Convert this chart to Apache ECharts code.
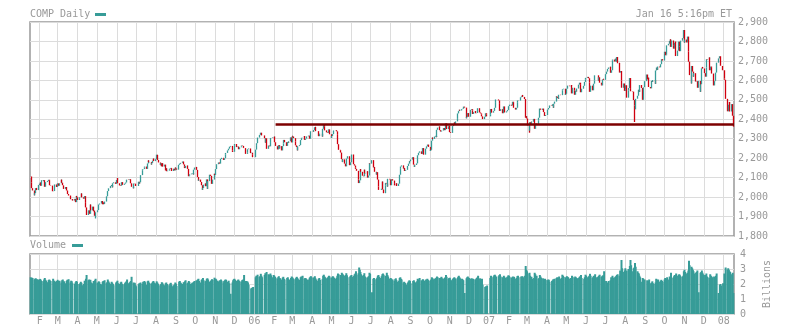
<!DOCTYPE html>
<html><head><meta charset="utf-8">
<script src="https://cdn.jsdelivr.net/npm/echarts@6/dist/echarts.min.js"></script>
<style>html,body{margin:0;padding:0;background:#fff}#c{width:793px;height:329px}</style>
</head><body><div id="c"></div>
<script>
// ---------- DATA (daily closes, grouped by month) ----------
const closes2005 = [
 [2106,2074,2046,2034,2009,2020,2046,2047,2036,2062],
 [2069,2075,2058,2087,2082,2087,2053,2053,2077,2083,2089,2087,2061,2059,2030,2031,2052,2065,2052],
 [2071,2068,2058,2071,2090,2074,2061,2060,2042,2052,2034,2016,2016,2008,2008,1989,1990,1982,1991,1974,2006,1999],
 [1985,1991,1999,1999,2019,1999,1992,2005,1974,1947,1908,1913,1932,1914,1962,1932,1951,1927,1930,1904,1922],
 [1929,1933,1962,1962,1967,1980,1963,1972,1964,1977,1995,2004,2031,2043,2046,2057,2062,2050,2071,2076,2068],
 [2088,2098,2071,2060,2057,2060,2077,2063,2069,2069,2075,2089,2090,2088,2091,2092,2071,2053,2045,2070,2069,2057],
 [2057,2079,2069,2076,2113,2135,2143,2144,2153,2157,2145,2173,2189,2179,2180,2167,2175,2187,2198,2185],
 [2195,2218,2217,2191,2178,2164,2174,2158,2174,2157,2167,2137,2148,2133,2136,2141,2146,2150,2149,2134,2146,2137,2152],
 [2147,2141,2166,2172,2171,2176,2183,2168,2156,2149,2160,2162,2145,2107,2110,2117,2121,2123,2116,2141,2152],
 [2155,2140,2103,2084,2090,2078,2061,2037,2047,2064,2070,2056,2091,2042,2082,2115,2109,2103,2068,2090,2120],
 [2114,2144,2160,2169,2178,2172,2175,2196,2202,2200,2191,2200,2220,2227,2240,2249,2259,2263,2239,2232,2233],
 [2267,2273,2257,2260,2246,2246,2256,2260,2265,2263,2253,2252,2222,2222,2231,2246,2250,2226,2228,2218,2205]
];
const closes2006 = [
 [2244,2263,2277,2306,2319,2320,2331,2317,2317,2303,2280,2302,2248,2248,2265,2261,2283,2304,2307,2306],
 [2311,2282,2263,2259,2245,2267,2250,2262,2240,2262,2276,2294,2282,2263,2283,2279,2287,2307,2281],
 [2315,2311,2303,2286,2266,2257,2240,2262,2267,2293,2299,2305,2306,2314,2294,2300,2301,2312,2316,2300,2337,2340,2340],
 [2336,2345,2359,2361,2339,2339,2313,2320,2326,2311,2351,2371,2362,2343,2333,2330,2344,2348,2323],
 [2304,2314,2324,2342,2343,2344,2338,2320,2272,2243,2238,2229,2195,2180,2194,2172,2158,2169,2198,2210,2164,2179],
 [2219,2219,2169,2162,2151,2145,2135,2091,2072,2086,2144,2130,2110,2107,2141,2122,2121,2133,2100,2111,2174,2172],
 [2190,2153,2155,2130,2116,2128,2090,2054,2037,2037,2043,2080,2039,2020,2061,2073,2070,2054,2094,2091],
 [2061,2078,2092,2085,2072,2060,2060,2071,2057,2069,2115,2149,2157,2163,2147,2150,2134,2138,2140,2160,2172,2185,2184],
 [2193,2205,2167,2155,2165,2173,2215,2227,2228,2235,2235,2222,2252,2237,2218,2249,2261,2263,2270,2258],
 [2237,2243,2290,2306,2299,2311,2315,2308,2346,2357,2363,2344,2337,2340,2342,2355,2344,2350,2379,2350,2363,2367],
 [2334,2334,2330,2365,2375,2384,2376,2389,2406,2430,2442,2449,2445,2452,2454,2465,2460,2405,2412,2432,2432],
 [2413,2448,2452,2445,2427,2437,2442,2431,2432,2453,2457,2435,2430,2425,2415,2401,2413,2431,2425,2415]
];
const closes2007 = [
 [2423,2453,2434,2438,2443,2459,2484,2502,2497,2479,2443,2452,2431,2431,2466,2435,2435,2441,2448,2464],
 [2468,2475,2470,2471,2490,2488,2459,2450,2459,2488,2497,2496,2513,2518,2525,2515,2504,2408,2416],
 [2404,2368,2341,2385,2374,2388,2387,2402,2351,2371,2378,2372,2394,2408,2455,2451,2448,2455,2437,2417,2417,2422],
 [2422,2450,2458,2471,2469,2477,2459,2480,2491,2518,2516,2510,2505,2526,2524,2524,2547,2554,2557,2525],
 [2531,2557,2566,2573,2570,2571,2576,2533,2562,2547,2526,2547,2543,2558,2578,2588,2577,2539,2557,2572,2592,2605],
 [2613,2618,2611,2588,2541,2573,2572,2549,2583,2599,2626,2626,2626,2599,2616,2588,2577,2574,2605,2608,2603],
 [2632,2645,2659,2666,2670,2639,2652,2701,2707,2697,2712,2697,2720,2688,2690,2640,2648,2599,2562,2584,2546],
 [2553,2575,2511,2547,2561,2612,2556,2544,2542,2499,2470,2451,2505,2508,2521,2552,2541,2576,2561,2500,2563,2565,2596],
 [2630,2605,2614,2566,2559,2597,2592,2602,2602,2582,2651,2666,2654,2671,2667,2683,2699,2709,2702],
 [2740,2747,2729,2733,2780,2788,2803,2811,2772,2805,2781,2763,2793,2799,2725,2753,2799,2774,2750,2804,2817,2816,2859],
 [2794,2810,2795,2825,2748,2696,2627,2584,2674,2645,2619,2637,2594,2596,2562,2597,2541,2580,2662,2669,2661],
 [2637,2619,2666,2709,2707,2718,2652,2671,2668,2635,2574,2596,2601,2640,2691,2713,2724,2676,2674,2652]
];
const closes2008 = [
 [2610,2603,2505,2499,2441,2475,2489,2440,2478,2418,2395]
];
// intraday extremes that stick out of the close-to-close bars
const lowSpikes = {'2005-04-29':1890,'2007-03-05':2331,'2007-08-16':2386,'2008-01-16':2362};

// ---------- DATA (daily volume, billions, grouped by month) ----------
const vol2005 = [
 [2.45,2.38,2.42,2.40,2.30,2.35,2.38,2.28,2.32,2.30],
 [2.22,2.34,2.25,2.20,2.18,2.30,2.40,2.28,2.22,2.12,2.26,2.30,2.24,2.20,2.35,2.18,2.22,2.15,2.20],
 [2.28,2.20,2.18,2.22,2.10,2.25,2.30,2.15,2.18,2.05,2.20,2.28,2.15,2.32,2.10,2.22,2.18,2.05,2.02,2.12,2.20,2.15],
 [2.00,1.98,2.05,2.15,2.08,1.92,2.00,2.22,2.15,2.35,2.60,2.25,2.30,2.18,2.28,2.10,2.05,2.20,2.15,2.25,2.35],
 [2.10,2.05,2.18,2.12,2.00,1.98,2.15,2.20,2.08,2.25,2.05,2.12,2.30,2.18,2.10,2.02,2.15,2.08,2.00,1.92,2.10],
 [2.15,2.22,2.05,2.00,2.10,2.15,2.02,1.95,2.00,2.08,2.12,2.18,2.30,2.05,2.10,2.15,2.20,2.48,2.10,2.05,2.08,1.95],
 [1.85,1.98,2.05,2.02,2.10,2.00,2.15,2.08,2.20,2.12,1.95,2.18,2.22,2.10,2.05,2.00,2.08,2.15,2.20,2.10],
 [2.05,2.18,2.10,2.02,1.90,1.95,2.00,2.12,2.08,1.98,1.92,2.05,2.10,2.00,1.95,1.90,2.02,2.08,1.95,1.85,1.92,1.98,2.10],
 [2.02,1.88,2.15,2.20,2.10,2.05,2.00,2.12,2.08,2.18,2.25,2.05,2.10,2.20,2.12,2.00,2.05,2.10,2.08,2.15,2.20],
 [2.25,2.18,2.30,2.35,2.20,2.10,2.28,2.32,2.40,2.25,2.18,2.22,2.35,2.38,2.30,2.15,2.20,2.25,2.32,2.28,2.42],
 [2.30,2.35,2.28,2.20,2.18,2.25,2.15,2.30,2.22,2.10,2.20,2.25,2.30,2.28,2.15,2.22,2.05,1.35,2.10,2.25,2.32],
 [2.35,2.28,2.20,2.25,2.30,2.22,2.18,2.15,2.25,2.28,2.30,2.60,2.20,2.15,2.18,2.10,1.95,1.70,1.75,1.68,1.80]
];
const vol2006 = [
 [2.45,2.55,2.50,2.62,2.48,2.52,2.68,2.55,2.45,2.60,2.72,2.58,2.80,2.65,2.55,2.62,2.70,2.58,2.45,2.60],
 [2.55,2.48,2.42,2.35,2.45,2.52,2.40,2.38,2.30,2.42,2.48,2.35,2.30,2.40,2.45,2.32,2.28,2.40,2.50],
 [2.45,2.38,2.30,2.35,2.42,2.48,2.40,2.32,2.28,2.45,2.50,2.42,2.55,2.35,2.40,2.38,2.32,2.28,2.30,2.42,2.48,2.52,2.45],
 [2.40,2.45,2.52,2.38,2.30,2.22,2.35,2.40,2.28,2.32,2.55,2.62,2.50,2.45,2.38,2.42,2.48,2.55,2.50],
 [2.40,2.45,2.52,2.48,2.40,2.35,2.42,2.55,2.70,2.65,2.60,2.58,2.75,2.68,2.62,2.55,2.60,2.72,2.58,2.45,2.50,2.55],
 [2.60,2.48,2.55,2.65,2.70,2.85,2.62,2.72,3.10,2.95,2.80,2.65,2.55,2.60,2.72,2.50,2.45,2.40,2.48,2.52,2.75,2.68],
 [1.45,2.35,2.40,2.30,2.35,2.42,2.55,2.60,2.48,2.40,2.52,2.65,2.70,2.62,2.55,2.48,2.75,2.60,2.50,2.35],
 [2.40,2.35,2.28,2.30,2.20,2.32,2.38,2.25,2.15,2.22,2.40,2.45,2.35,2.30,2.10,2.15,2.08,2.05,1.95,2.10,2.18,2.25,2.20],
 [2.05,2.20,2.25,2.15,2.10,2.18,2.35,2.30,2.22,2.40,2.25,2.18,2.32,2.28,2.20,2.30,2.25,2.35,2.28,2.20],
 [2.25,2.30,2.45,2.40,2.32,2.35,2.38,2.42,2.50,2.45,2.40,2.35,2.42,2.48,2.38,2.35,2.40,2.45,2.60,2.48,2.35,2.40],
 [2.42,2.30,2.25,2.35,2.40,2.45,2.38,2.32,2.40,2.48,2.55,2.45,2.38,2.35,2.30,2.25,1.40,2.38,2.45,2.50,2.42],
 [2.40,2.35,2.38,2.30,2.35,2.32,2.28,2.35,2.40,2.45,2.55,2.38,2.32,2.30,2.35,1.95,1.80,1.85,1.78,1.90]
];
const vol2007 = [
 [2.40,2.55,2.45,2.50,2.58,2.62,2.55,2.48,2.52,2.60,2.65,2.50,2.45,2.42,2.55,2.48,2.40,2.45,2.50,2.58],
 [2.55,2.48,2.40,2.45,2.50,2.42,2.48,2.35,2.40,2.52,2.55,2.45,2.50,2.48,2.52,2.45,2.55,3.20,2.95],
 [2.85,2.70,2.75,2.55,2.45,2.48,2.35,2.40,2.75,2.65,2.50,2.55,2.35,2.40,2.60,2.50,2.42,2.38,0.90,2.30,2.35,2.28],
 [2.25,2.30,2.28,2.15,2.20,2.25,2.32,2.28,2.35,2.40,2.45,2.38,2.42,2.50,2.35,2.40,2.62,2.55,2.48,2.45],
 [2.40,2.52,2.48,2.45,2.35,2.40,2.38,2.55,2.48,2.42,2.50,2.45,2.40,2.38,2.42,2.48,2.52,2.60,2.40,2.35,2.45,2.62],
 [2.55,2.45,2.50,2.55,2.68,2.55,2.40,2.48,2.55,2.50,2.65,2.45,2.42,2.50,2.55,2.62,2.48,2.52,2.58,2.50,2.85],
 [2.20,1.80,2.10,2.20,2.25,2.45,2.40,2.55,2.42,2.45,2.50,2.55,2.60,2.65,2.55,2.90,2.85,3.60,3.05,2.80,2.90],
 [3.05,2.85,2.90,3.00,2.85,3.20,3.60,3.25,2.85,3.05,3.10,3.40,3.15,2.85,2.75,2.70,2.55,2.45,2.15,2.40,2.35,2.20,2.30],
 [2.25,2.20,2.15,2.30,2.05,2.10,2.18,2.05,2.00,2.10,2.35,2.28,2.20,2.30,2.15,2.22,2.28,2.20,2.15],
 [2.30,2.40,2.35,2.28,2.45,2.30,2.50,2.45,2.75,2.40,2.45,2.55,2.60,2.50,2.70,2.55,2.62,2.65,2.58,2.50,2.48,2.55,2.85],
 [2.95,2.80,2.70,2.75,2.90,3.55,3.25,3.15,3.05,2.95,2.85,2.70,2.75,2.80,2.90,1.45,2.75,2.80,2.90,2.75,2.65],
 [2.60,2.55,2.70,2.50,2.45,2.40,2.65,2.55,2.50,2.45,2.50,2.40,2.35,2.55,2.70,1.40,1.95,2.00,1.90,2.05]
];
const vol2008 = [
 [2.70,2.55,3.10,2.95,3.05,2.95,2.85,2.80,2.65,2.75,1.40]
];

const holidays = ['2005-01-17','2005-02-21','2005-03-25','2005-05-30','2005-07-04','2005-09-05','2005-11-24','2005-12-26',
 '2006-01-02','2006-01-16','2006-02-20','2006-04-14','2006-05-29','2006-07-04','2006-09-04','2006-11-23','2006-12-25',
 '2007-01-01','2007-01-02','2007-01-15','2007-02-19','2007-04-06','2007-05-28','2007-07-04','2007-09-03','2007-11-22','2007-12-25',
 '2008-01-01'];

const monthTickLabels = ['F','M','A','M','J','J','A','S','O','N','D','06',
 'F','M','A','M','J','J','A','S','O','N','D','07',
 'F','M','A','M','J','J','A','S','O','N','D','08'];

const yTickLabelsVol = ['0','1','2','3','4'];
const supportLevel = 2376;
const supportFrom = '2006-02-03';

// ---------- BUILD ----------
const TEAL = '#379c98', RED = '#d0000f';
function iso(t){ return new Date(t).toISOString().slice(0,10); }
function tradingDays(y, m, from, to){
  const out = [];
  const dim = new Date(Date.UTC(y, m+1, 0)).getUTCDate();
  for (let d = from; d <= Math.min(dim, to); d++){
    const t = Date.UTC(y, m, d);
    const wd = new Date(t).getUTCDay();
    if (wd === 0 || wd === 6) continue;
    if (holidays.indexOf(iso(t)) >= 0) continue;
    out.push(t);
  }
  return out;
}
const years = [[2005, closes2005, vol2005],[2006, closes2006, vol2006],[2007, closes2007, vol2007],[2008, closes2008, vol2008]];
const days = [], closes = [], vols = [];
years.forEach(([y, cl, vl]) => {
  cl.forEach((arr, m) => {
    const from = (y === 2005 && m === 0) ? 18 : 1;
    const to = (y === 2008 && m === 0) ? 16 : 31;
    const td = tradingDays(y, m, from, to);
    const n = Math.min(td.length, arr.length);
    for (let i = 0; i < n; i++){ days.push(td[i]); closes.push(arr[i]); vols.push(vl[m][i]); }
  });
});
const candles = closes.map((c, i) => {
  const o = i > 0 ? closes[i-1] : c;
  let lo = Math.min(o, c), hi = Math.max(o, c);
  const k = iso(days[i]);
  if (lowSpikes[k] != null) lo = Math.min(lo, lowSpikes[k]);
  return [days[i], o, c, lo, hi];
});
const volData = vols.map((v, i) => [days[i], v]);

const xMin = Date.UTC(2005, 0, 17), xMax = Date.UTC(2008, 0, 17);
const monthTicks = monthTickLabels.map((_, i) => Date.UTC(2005, 1 + i, 1));
const FONT = 'DejaVu Sans Mono';
const GRAY = '#999';

const chart = echarts.init(document.getElementById('c'), null, {renderer: 'canvas'});
const xCommon = {
  type: 'value', min: xMin, max: xMax, scale: true,
  axisLine: {show: false},
  axisTick: {show: false, customValues: monthTicks},
  splitLine: {show: true, lineStyle: {color: '#dcdcdc', width: 1}}
};
chart.setOption({
  animation: false,
  grid: [
    {left: 30, right: 59, top: 22, height: 214, show: true, borderColor: GRAY, borderWidth: 1.5},
    {left: 30, right: 59, top: 254, height: 60, show: true, borderColor: GRAY, borderWidth: 1.5}
  ],
  xAxis: [
    Object.assign({}, xCommon, {gridIndex: 0, axisLabel: {show: false, customValues: monthTicks}}),
    Object.assign({}, xCommon, {gridIndex: 1, axisLabel: {
      show: true, customValues: monthTicks, color: GRAY, fontFamily: FONT, fontSize: 10, margin: 2,
      formatter: function(v){ const i = monthTicks.indexOf(v); return i >= 0 ? monthTickLabels[i] : ''; }
    }})
  ],
  yAxis: [
    {type: 'value', gridIndex: 0, position: 'right', min: 1800, max: 2900, interval: 100,
     axisLine: {show: false}, axisTick: {show: false},
     axisLabel: {color: GRAY, fontFamily: FONT, fontSize: 10, margin: 4,
       formatter: v => String(v).replace(/\B(?=(\d{3})+(?!\d))/g, ',')},
     splitLine: {lineStyle: {color: '#dcdcdc'}}},
    {type: 'value', gridIndex: 1, position: 'right', min: 0, max: 4, interval: 1,
     axisLine: {show: false}, axisTick: {show: false},
     axisLabel: {color: GRAY, fontFamily: FONT, fontSize: 10, margin: 6, formatter: v => yTickLabelsVol[v]},
     splitLine: {lineStyle: {color: '#dcdcdc'}}}
  ],
  series: [
    {type: 'candlestick', xAxisIndex: 0, yAxisIndex: 0, data: candles, large: false,
     encode: {x: 0, y: [1, 2, 3, 4]}, barWidth: 1.2,
     itemStyle: {color: TEAL, color0: RED, borderColor: TEAL, borderColor0: RED, borderWidth: 1.3},
     markLine: {silent: true, symbol: 'none', label: {show: false},
       lineStyle: {color: '#7d0000', width: 2.5, type: 'solid'},
       data: [[{coord: [Date.parse(supportFrom), supportLevel]}, {coord: [xMax, supportLevel]}]]}
    },
    {type: 'bar', xAxisIndex: 1, yAxisIndex: 1, data: volData, barWidth: 2,
     itemStyle: {color: TEAL}, large: false}
  ],
  graphic: [
    {type: 'text', left: 30, top: 9, style: {text: 'COMP Daily', font: '10px "DejaVu Sans Mono"', fill: GRAY}},
    {type: 'rect', shape: {x: 95, y: 13, width: 11, height: 3}, style: {fill: TEAL}},
    {type: 'text', right: 61, top: 9, style: {text: 'Jan 16 5:16pm ET', font: '10px "DejaVu Sans Mono"', fill: GRAY}},
    {type: 'text', left: 30, top: 240, style: {text: 'Volume', font: '10px "DejaVu Sans Mono"', fill: GRAY}},
    {type: 'rect', shape: {x: 72, y: 244, width: 11, height: 3}, style: {fill: TEAL}},
    {type: 'text', x: 767, y: 284, rotation: Math.PI / 2,
     style: {text: 'Billions', font: '10px "DejaVu Sans Mono"', fill: GRAY, align: 'center', verticalAlign: 'middle'}}
  ]
});
</script></body></html>
